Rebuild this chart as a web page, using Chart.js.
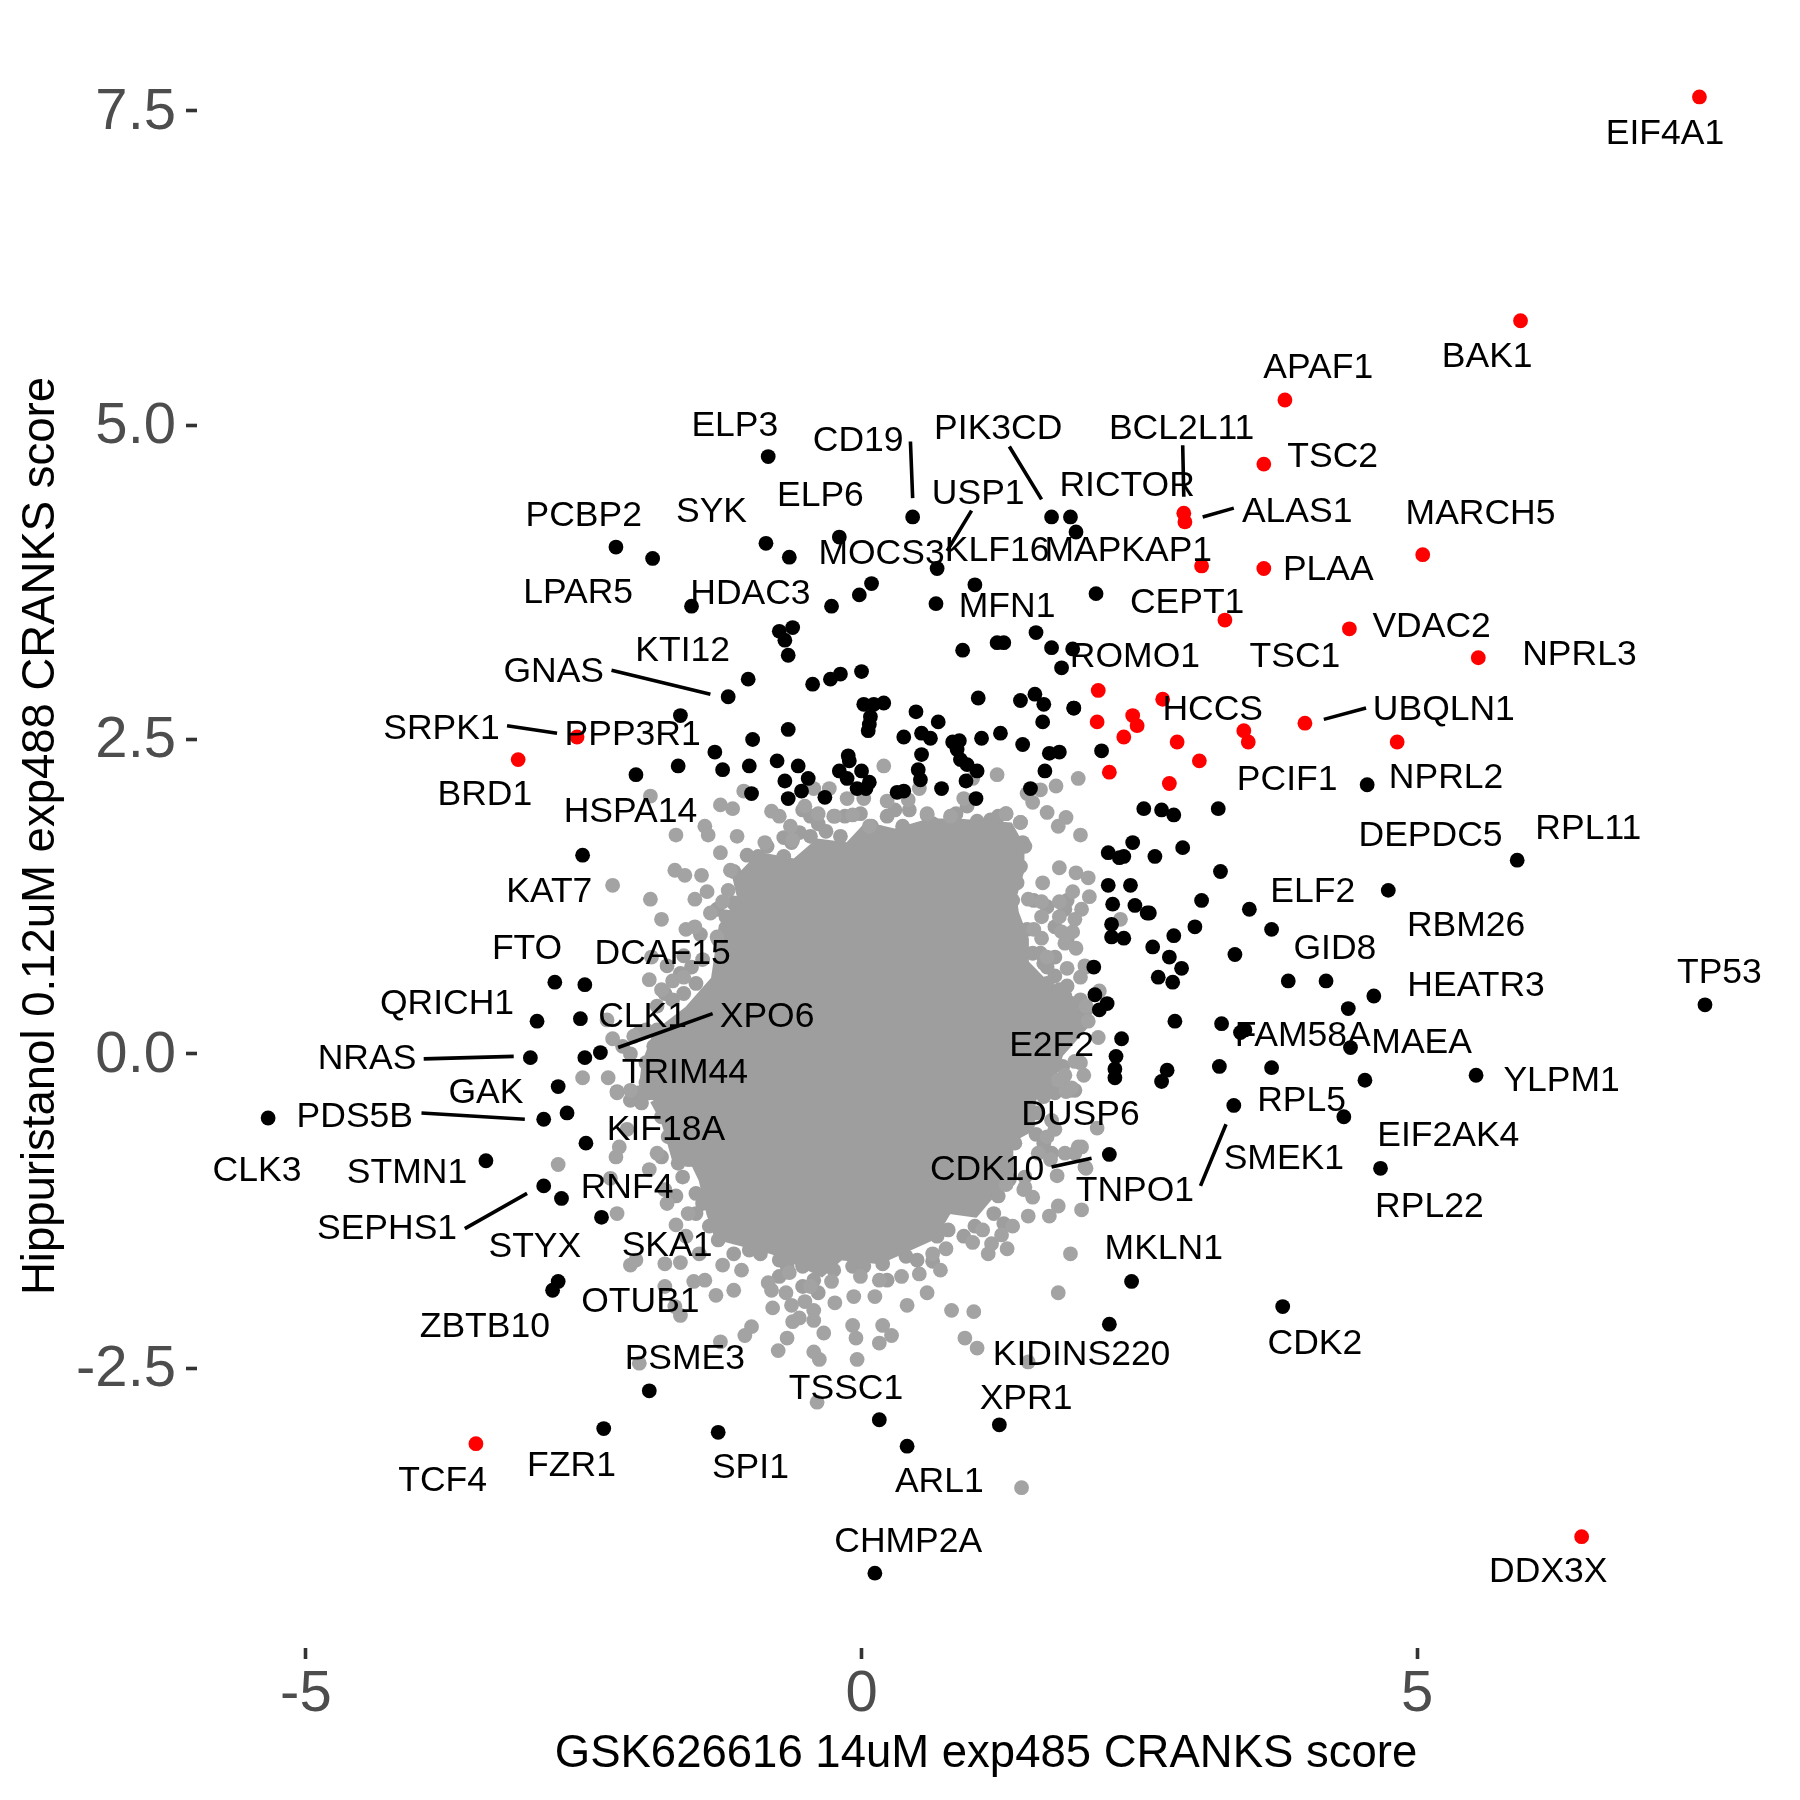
<!DOCTYPE html>
<html>
<head>
<meta charset="utf-8">
<style>
  html, body { margin: 0; padding: 0; background: #fff; }
  canvas { display: block; }
</style>
<script src="https://cdn.jsdelivr.net/npm/chart.js@4/dist/chart.umd.js"></script>
</head>
<body>
<canvas id="scatter" width="1800" height="1800"></canvas>
<script>
const xTicks = [-5, 0, 5];
const yTicks = [-2.5, 0, 2.5, 5, 7.5];
const yTickLabels = ['-2.5', '0.0', '2.5', '5.0', '7.5'];

// red hits
const redX = [7.54,5.93,3.81,3.62,2.90,2.91,5.05,3.06,3.62,3.27,4.39,5.55,2.13,2.71,2.12,2.44,2.48,2.36,2.84,3.04,2.23,2.77,3.44,3.48,3.99,4.82,-2.56,-3.09,-3.47,6.48];
const redY = [7.61,5.83,5.20,4.69,4.30,4.23,3.97,3.88,3.86,3.45,3.38,3.15,2.89,2.82,2.64,2.69,2.61,2.52,2.48,2.33,2.24,2.15,2.57,2.48,2.63,2.48,2.52,2.34,-3.10,-3.84];

// black points
const blackX = [-0.84,0.46,-2.21,-1.88,-0.86,-0.65,-0.20,0.68,0.09,-0.02,-0.27,-1.53,0.67,1.02,-0.74,-0.62,-0.69,-0.66,0.91,-1.02,-1.20,-0.44,-0.28,-0.19,0.00,1.05,-1.63,-0.66,-0.98,-1.32,-1.65,-2.03,-1.25,-1.01,-0.76,-0.57,-0.69,-0.48,-0.54,0.02,0.11,0.20,0.08,0.07,0.06,0.49,0.69,0.38,0.54,0.62,0.54,0.51,0.53,1.08,0.82,0.88,0.86,0.89,0.95,1.04,0.94,0.72,-0.12,-0.11,-0.20,-0.13,0.00,0.07,-0.04,0.32,0.38,1.22,1.25,
  -0.66,-0.33,-0.99,0.04,1.45,1.43,1.03,1.69,1.78,1.65,1.52,1.63,1.91,1.64,2.16,2.54,2.22,2.36,2.44,2.32,-2.51,2.22,2.42,2.26,2.46,2.57,2.25,2.25,2.36,2.09,2.10,2.14,2.21,2.34,2.29,2.28,2.28,
  -2.76,-2.49,-2.53,-2.35,-2.49,-2.73,-2.92,-2.98,-2.86,-2.65,-2.48,-3.38,-2.86,-2.70,-2.34,-2.73,-2.78,-5.34,-1.91,-2.32,-1.29,0.16,0.41,1.24,2.43,2.23,2.23,0.12,3.79,
  2.64,2.89,3.23,4.74,3.49,3.69,3.06,3.00,3.36,2.81,2.59,2.62,2.77,2.88,2.67,2.80,3.84,4.18,4.61,4.38,2.82,3.24,3.45,3.41,4.40,2.75,2.70,3.22,3.69,4.53,5.53,3.35,4.34,4.67,7.59,5.90,
  1.71,1.88,1.93,2.11,1.57,1.28,1.71,1.90,1.80,1.56,1.91,4.55,2.70,2.81,3.21];
const blackY = [4.75,4.27,4.03,3.94,4.06,3.95,4.11,3.86,3.74,3.65,3.56,3.56,3.58,3.73,3.36,3.39,3.29,3.17,3.21,2.98,2.84,2.94,2.98,3.02,3.04,2.83,2.69,2.58,2.50,2.40,2.29,2.22,2.26,2.29,2.33,2.29,2.17,2.19,2.09,2.78,2.78,2.79,2.68,2.62,2.57,2.72,2.64,2.52,2.55,2.51,2.38,2.26,2.18,2.51,2.48,2.49,2.42,2.34,2.30,2.25,2.17,2.11,2.37,2.33,2.25,2.19,2.25,2.16,2.11,2.08,2.09,3.27,2.55,
  2.03,2.04,2.07,2.11,2.46,2.81,2.03,2.39,2.40,2.25,2.11,2.64,2.75,2.78,2.41,1.95,1.60,1.57,1.68,1.56,1.58,1.34,1.34,1.19,1.18,1.12,1.03,0.93,0.92,0.69,0.47,0.35,0.40,0.12,-0.02,-0.12,-0.19,
  0.57,0.55,0.28,0.01,-0.03,-0.26,0.26,-0.03,-0.52,-0.47,-0.71,-0.85,-1.05,-1.15,-1.30,-1.81,-1.88,-0.51,-2.68,-2.98,-3.01,-2.91,-3.12,-2.95,-1.81,-2.15,-0.80,-4.13,-2.01,
  1.57,1.64,1.45,1.30,1.15,0.99,1.22,1.01,0.79,0.94,1.12,0.85,0.77,0.68,0.61,0.57,0.58,0.58,0.46,0.36,0.26,0.24,0.19,0.17,0.05,-0.13,-0.22,-0.10,-0.11,-0.21,-0.17,-0.41,-0.50,-0.91,0.39,1.54,
  4.27,4.27,4.15,3.66,3.35,3.27,3.23,3.22,3.07,2.86,2.75,2.14,1.94,1.90,1.95];

// grey points that stand clear of the dense core
const greyX = [0.20,1.22,1.75,1.95,1.61,1.54,1.67,1.84,1.77,1.97,-1.90,-1.06,-1.27,-1.16,-0.81,-0.74,-1.41,-1.38,-1.67,-1.12,-0.64,-0.87,-0.62,-1.27,-1.18,-1.68,-1.59,-1.44,-2.24,-1.90,-1.80,-1.39,-1.50,-1.25,-1.20,-1.36,-1.58,-1.50,-1.30,-1.89,-1.91,-1.80,-1.70,-1.60,-2.29,-2.24,-2.05,-2.51,-2.28,-2.20,-2.08,
  1.78,1.93,2.04,1.63,1.90,2.05,1.50,1.62,1.78,1.98,1.92,2.33,1.62,1.78,1.55,1.80,1.90,1.62,1.83,1.93,1.67,2.02,1.85,1.97,2.14,2.02,2.04,2.13,1.97,1.83,2.00,
  -0.43,-0.29,-0.13,0.02,0.52,0.92,0.23,0.42,0.80,0.59,1.30,1.43,-0.51,-0.39,-0.24,-0.08,0.07,1.00,1.49,
  -2.73,-2.21,-2.18,-2.20,-1.84,-2.26,-1.91,-1.75,-1.56,-1.67,-1.58,-2.08,-2.03,-1.77,-1.63,-1.51,-1.41,-1.31,-1.15,-1.25,-1.08,-1.77,-1.63,-1.68,-0.84,-0.81,-0.80,-0.68,-0.63,-0.56,-0.62,-0.51,-0.43,-0.43,-0.99,-1.05,-0.67,-0.75,-1.27,-2.00,-0.34,-0.43,-0.38,-0.08,-0.05,-0.04,0.19,0.27,0.16,-0.40,1.44,1.50,1.04,0.93,0.81,1.01,0.41,0.59,0.36,0.52,0.71,1.77,1.88,1.31,1.14,1.17,1.50,1.69,1.77,1.98,1.54,1.47,1.76,2.02,1.83,1.98,2.12,1.74,1.36,1.26,1.00,1.09,0.76,0.64,0.16,0.12,-0.01,-0.07,-0.24,-0.27,-0.46,-0.65,
  2.01,1.92,1.77,1.89,1.84,1.71,1.67,1.59,1.70,1.92,1.95,2.01,1.30,1.46];
const greyY = [2.29,2.22,2.13,2.19,2.10,2.00,1.92,1.88,1.81,1.74,2.05,2.09,1.98,1.95,1.93,1.89,1.81,1.74,1.74,1.73,1.81,1.68,1.70,1.60,1.46,1.46,1.42,1.42,1.34,1.23,1.07,1.29,1.23,1.21,1.30,1.12,0.99,1.01,0.93,0.77,0.59,0.51,0.58,0.61,0.27,0.12,0.14,-0.19,-0.19,-0.31,-0.29,
  1.48,1.44,1.40,1.36,1.29,1.25,1.23,1.21,1.21,1.15,1.07,1.07,1.09,1.09,0.99,0.97,0.97,0.92,0.88,0.84,0.77,0.69,0.68,0.61,0.50,0.38,0.26,0.13,-0.07,-0.17,-0.17,
  2.11,2.11,2.03,2.03,2.11,2.03,2.01,2.02,1.89,1.91,1.91,1.84,1.97,1.91,1.89,1.90,1.81,2.19,2.07,
  -0.88,-0.82,-0.74,-1.27,-0.79,-0.99,-0.92,-1.19,-1.27,-1.36,-1.45,-1.68,-1.64,-1.67,-1.66,-1.81,-1.80,-1.92,-1.88,-1.68,-1.72,-1.85,-2.08,-2.01,-1.82,-1.88,-2.02,-1.90,-2.00,-2.10,-2.13,-1.97,-2.04,-2.12,-2.17,-2.24,-2.26,-2.36,-2.29,-2.46,-2.22,-2.37,-2.43,-2.16,-2.26,-2.43,-2.16,-2.24,-2.30,-2.77,-3.45,-2.45,-2.34,-2.26,-2.04,-2.05,-2.00,-1.90,-1.77,-1.75,-1.72,-1.90,-1.59,-1.55,-1.59,-1.51,-1.29,-1.29,-1.21,-1.24,-1.14,-1.06,-0.97,-0.91,-0.79,-0.74,-0.59,-0.60,-1.37,-1.44,-1.50,-1.40,-1.55,-1.59,-1.80,-1.93,-1.77,-1.93,-1.98,-1.81,-1.85,-1.74,
  0.70,-0.06,-0.21,-0.27,-0.30,-0.53,-0.66,-0.79,-0.84,-0.79,-0.74,-0.90,-1.04,-1.08];

// grey points crowding the rim of the core
const rimX = [-0.53,-0.46,-0.39,-0.32,-0.19,-0.56,-0.70,-0.93,-0.63,-0.46,-0.94,-1.08,-0.81,-0.87,-1.01,-1.15,-1.22,-0.25,-0.15,-0.01,0.09,0.23,0.30,0.43,0.16,0.37,0.59,0.64,0.85,0.95,0.90,1.04,1.16,1.30,1.23,1.43,1.45,1.47,1.43,1.40,1.36,1.49,1.54,1.64,1.74,1.85,1.97,1.67,2.02,1.83,
  -1.29,-1.43,-1.53,-1.63,-1.49,-1.77,-1.70,-1.60,-1.84,-1.94,-1.84,-1.70,-1.87,-2.01,-2.15,-2.08,-1.94,-2.01,-1.94,
  -2.20,-2.08,-1.98,-1.91,-1.80,-2.11,-1.74,-1.65,-1.80,-1.56,-1.61,-1.77,-1.67,-1.49,-1.43,-1.49,-1.37,-1.46,-1.29,-1.18,-1.01,-1.01,-1.15,-0.91,-0.74,-0.67,-0.74,-0.53,-0.43,-0.53,-0.39,-0.25,-0.08,0.02,0.19,0.23,0.40,0.50,0.64,0.68,0.78,0.92,1.02,1.19,1.28,1.23,1.33,1.47,1.38,1.57,1.64,1.71,1.50,1.64,1.81,1.92,1.57,
  1.78,1.92,1.88,1.78,1.67,1.81,1.88,1.74,1.55,1.67,1.83,1.85,1.74,1.85,1.61,1.74,1.67,
  -1.03,-0.85,-0.70,-1.15,-1.30,-1.45,-1.60,-1.75];
const rimY = [1.94,1.89,1.83,1.77,1.73,1.76,1.57,1.57,1.68,1.73,1.49,1.38,1.52,1.44,1.33,1.20,1.09,1.89,1.89,1.91,1.81,1.89,1.94,1.94,1.76,1.81,1.90,1.83,1.91,1.97,1.81,1.85,1.86,1.91,1.89,1.84,1.68,1.65,1.49,1.36,1.22,0.99,0.80,0.72,0.62,0.54,0.43,0.56,0.35,0.46,
  0.91,0.75,0.69,0.64,0.56,0.48,0.43,0.48,0.38,0.19,0.19,0.11,0.06,0.16,0.06,0.00,-0.07,-0.31,-0.23,
  -0.30,-0.37,-0.39,-0.31,-0.50,-0.60,-0.66,-0.87,-0.82,-0.84,-0.98,-1.08,-1.13,-1.11,-1.19,-1.27,-1.37,-1.59,-1.48,-1.43,-1.45,-1.56,-1.59,-1.59,-1.64,-1.69,-1.77,-1.69,-1.80,-1.85,-1.90,-1.72,-1.69,-1.69,-1.67,-1.80,-1.61,-1.64,-1.65,-1.45,-1.40,-1.45,-1.37,-1.27,-1.35,-1.13,-1.00,-0.98,-0.71,-0.64,-0.71,-0.79,-0.55,-0.34,-0.23,-0.29,-0.47,
  0.51,0.40,0.30,0.16,-0.10,-0.10,-0.29,-0.31,1.22,1.17,1.15,1.22,1.01,0.91,0.80,0.77,0.69,
  1.58,1.65,1.72,1.45,1.15,0.95,0.78,0.70];

// outline of the dense grey core, where points overlap completely
const coreX = [-1.98,-1.94,-1.84,-1.56,-1.43,-1.32,-1.25,-1.08,-1.12,-0.91,-0.60,-0.39,-0.12,0.05,0.30,0.61,0.85,1.33,1.43,1.43,1.36,1.38,1.47,1.47,1.67,1.98,2.02,1.78,1.67,1.54,1.50,1.33,1.33,1.22,1.02,0.78,0.64,0.16,-0.19,-0.36,-0.67,-0.81,-1.29,-1.36,-1.43,-1.50,-1.67,-1.77,-1.87];
const coreY = [-0.34,-0.07,0.16,0.35,0.48,0.59,1.01,1.23,1.38,1.57,1.52,1.68,1.65,1.81,1.76,1.84,1.84,1.81,1.65,1.46,1.25,1.12,0.91,0.72,0.54,0.38,0.24,0.00,-0.31,-0.34,-0.60,-0.68,-0.95,-1.06,-1.27,-1.24,-1.45,-1.64,-1.61,-1.74,-1.61,-1.56,-1.45,-1.27,-1.00,-0.87,-0.84,-0.53,-0.37];

// gene labels, placed by the repel step
const labelNames = ['EIF4A1','BAK1','APAF1','ELP3','CD19','PIK3CD','BCL2L11','TSC2','RICTOR','USP1','ELP6','SYK','PCBP2','ALAS1','MARCH5','MOCS3','KLF16','MAPKAP1','PLAA','LPAR5','HDAC3','CEPT1','MFN1','VDAC2','KTI12','ROMO1','TSC1','NPRL3','GNAS','HCCS','UBQLN1','SRPK1','PPP3R1','NPRL2','PCIF1','BRD1','HSPA14','RPL11','DEPDC5','KAT7','ELF2','RBM26','FTO','GID8','DCAF15','TP53','HEATR3','QRICH1','CLK1','XPO6','FAM58A','E2F2','MAEA','NRAS','TRIM44','YLPM1','GAK','RPL5','PDS5B','DUSP6','KIF18A','EIF2AK4','SMEK1','CLK3','STMN1','CDK10','RNF4','TNPO1','RPL22','SEPHS1','STYX','SKA1','MKLN1','OTUB1','ZBTB10','CDK2','KIDINS220','PSME3','TSSC1','XPR1','FZR1','SPI1','TCF4','ARL1','CHMP2A','DDX3X'];
const labelX = [7.23,5.63,4.11,-1.14,-0.03,1.23,2.88,4.24,2.39,1.05,-0.37,-1.35,-2.50,3.92,5.57,0.18,1.22,2.40,4.20,-2.55,-1.00,2.93,1.31,5.13,-1.61,2.46,3.90,6.46,-2.77,3.16,5.24,-3.78,-2.06,5.26,3.83,-3.39,-2.08,6.54,5.12,-2.81,4.06,5.44,-3.01,4.26,-1.79,7.72,5.53,-3.73,-1.97,-0.85,3.97,1.71,5.04,-4.45,-1.59,6.30,-3.38,3.96,-4.56,1.97,-1.76,5.28,3.80,-5.44,-4.09,1.13,-2.11,2.46,5.11,-4.27,-2.94,-1.75,2.72,-1.99,-3.39,4.08,1.98,-1.59,-0.14,1.48,-2.61,-1.00,-3.77,0.70,0.42,6.18];
const labelY = [7.33,5.56,5.47,5.01,4.89,4.98,4.98,4.76,4.53,4.47,4.45,4.32,4.29,4.32,4.31,3.99,4.01,4.01,3.86,3.68,3.67,3.60,3.57,3.41,3.22,3.17,3.17,3.19,3.05,2.75,2.75,2.60,2.55,2.21,2.19,2.07,1.94,1.80,1.75,1.30,1.30,1.03,0.85,0.85,0.81,0.66,0.55,0.41,0.31,0.31,0.16,0.08,0.10,-0.03,-0.14,-0.20,-0.30,-0.36,-0.49,-0.47,-0.59,-0.64,-0.82,-0.92,-0.93,-0.91,-1.05,-1.08,-1.20,-1.38,-1.52,-1.51,-1.54,-1.96,-2.16,-2.29,-2.38,-2.41,-2.65,-2.73,-3.26,-3.28,-3.38,-3.39,-3.87,-4.11];

// repel segments, null breaks the line between them
const segX = [0.44,0.46,null,1.33,1.62,null,2.89,2.90,null,0.99,0.77,null,3.07,3.35,null,-2.25,-1.36,null,-3.19,-2.74,null,4.16,4.54,null,-2.19,-1.34,null,-3.94,-3.13,null,-3.96,-3.03,null,-3.57,-3.01,null,1.71,2.07,null,3.28,3.05];
const segY = [4.87,4.42,null,4.83,4.41,null,4.84,4.43,null,4.32,4.00,null,4.27,4.34,null,3.05,2.86,null,2.61,2.55,null,2.66,2.75,null,0.05,0.32,null,-0.04,-0.02,null,-0.47,-0.52,null,-1.39,-1.11,null,-0.90,-0.83,null,-0.56,-1.05];

const FONT = '"Liberation Sans", Arial, sans-serif';
const zip = (xs, ys) => xs.map((x, i) => ({ x: x, y: ys[i] }));

// writes each gene name at its point of the hidden label dataset
const geneLabels = {
    id: 'geneLabels',
    afterDatasetsDraw(chart) {
        const idx = chart.data.datasets.findIndex(d => d.label === 'labels');
        const ctx = chart.ctx;
        ctx.save();
        ctx.font = '35.5px ' + FONT;
        ctx.fillStyle = '#000';
        ctx.textAlign = 'center';
        ctx.textBaseline = 'middle';
        chart.getDatasetMeta(idx).data.forEach((pt, i) => ctx.fillText(labelNames[i], pt.x, pt.y + 2));
        ctx.restore();
    }
};

const points = (label, xs, ys, colour, order) => ({
    label: label, data: zip(xs, ys), order: order,
    backgroundColor: colour, borderWidth: 0, pointRadius: 7.4, showLine: false
});

new Chart(document.getElementById('scatter'), {
    type: 'scatter',
    data: {
        datasets: [
            { label: 'core', data: zip(coreX, coreY), order: 7, showLine: true, tension: 0, fill: 'shape',
              backgroundColor: '#9E9E9E', borderColor: '#9E9E9E', borderWidth: 8, pointRadius: 0 },
            points('rim', rimX, rimY, '#9E9E9E', 6),
            points('grey', greyX, greyY, '#A3A3A3', 5),
            points('black', blackX, blackY, '#000000', 4),
            points('red', redX, redY, '#FF0000', 3),
            { label: 'segments', data: zip(segX, segY), order: 2, showLine: true, spanGaps: false, tension: 0,
              borderColor: '#000', borderWidth: 3.6, pointRadius: 0 },
            { label: 'labels', data: zip(labelX, labelY), order: 1, showLine: false, pointRadius: 0 }
        ]
    },
    plugins: [geneLabels],
    options: {
        responsive: false,
        animation: false,
        layout: { padding: { top: 24, right: 25, left: 0, bottom: 0 } },
        plugins: { legend: { display: false }, tooltip: { enabled: false } },
        scales: {
            x: {
                type: 'linear', min: -5.98, max: 8.22,
                afterFit: s => { s.height = 152; s.paddingLeft = 0; s.paddingRight = 0; },
                afterBuildTicks: s => { s.ticks = xTicks.map(v => ({ value: v })); },
                border: { display: false },
                grid: { drawOnChartArea: false, drawTicks: true, tickLength: 11, tickColor: '#333333', tickWidth: 3.6 },
                ticks: { autoSkip: false, maxRotation: 0, padding: 1, color: '#4D4D4D',
                          font: { family: FONT, size: 58 }, callback: v => String(v) },
                title: { display: true, text: 'GSK626616 14uM exp485 CRANKS score', color: '#000',
                         font: { family: FONT, size: 45.5 }, padding: { top: 0, bottom: 18 } }
            },
            y: {
                type: 'linear', min: -4.725, max: 8.19,
                afterFit: s => { s.width = 197; s.paddingTop = 0; s.paddingBottom = 0; },
                afterBuildTicks: s => { s.ticks = yTicks.map(v => ({ value: v })); },
                border: { display: false },
                grid: { drawOnChartArea: false, drawTicks: true, tickLength: 11, tickColor: '#333333', tickWidth: 3.6 },
                ticks: { autoSkip: false, padding: 10, labelOffset: 2, color: '#4D4D4D',
                          font: { family: FONT, size: 58 },
                          callback: v => yTickLabels[yTicks.indexOf(v)] },
                title: { display: true, text: 'Hippuristanol 0.12uM exp488 CRANKS score', color: '#000',
                         font: { family: FONT, size: 45.5 }, padding: { top: 14, bottom: 0 } }
            }
        }
    }
});
</script>
</body>
</html>
